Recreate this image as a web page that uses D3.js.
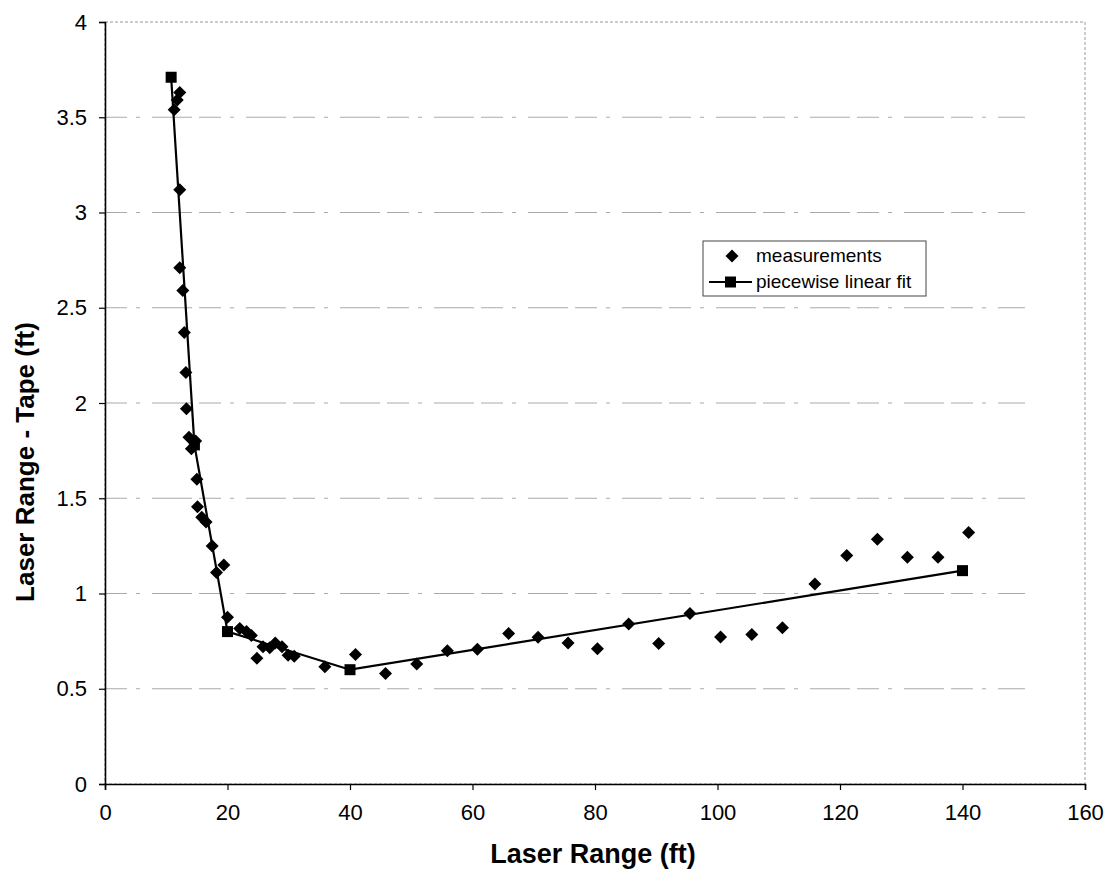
<!DOCTYPE html>
<html>
<head>
<meta charset="utf-8">
<script src="https://cdn.jsdelivr.net/npm/d3@7"></script>
<style>
  body { margin: 0; background: #fff; }
  text { font-family: "Liberation Sans", Arial, sans-serif; }
</style>
</head>
<body>
<div id="chart"></div>
<script>
// measured points (laser range, laser - tape)
var measX = [11.3, 11.8, 12.2, 12.2, 12.2, 12.7, 12.95, 13.2, 13.3, 13.7, 14.1, 14.8, 15.0, 15.1, 15.8, 16.5, 17.5, 18.2, 19.4, 20.0,
  22.0, 23.1, 23.9, 24.8, 25.8, 26.9, 27.8, 28.9, 29.9, 30.9, 35.9, 40.9, 45.8, 50.9, 55.9, 60.8, 65.9, 70.7, 75.6, 80.4,
  85.5, 90.4, 95.5, 100.5, 105.6, 110.6, 115.9, 121.1, 126.1, 131, 136, 141];
var measY = [3.54, 3.59, 3.63, 3.12, 2.71, 2.59, 2.37, 2.16, 1.97, 1.82, 1.76, 1.80, 1.60, 1.455, 1.40, 1.375, 1.25, 1.11, 1.15, 0.875,
  0.816, 0.80, 0.78, 0.66, 0.72, 0.715, 0.74, 0.72, 0.676, 0.67, 0.615, 0.68, 0.58, 0.63, 0.70, 0.707, 0.79, 0.77, 0.74, 0.71,
  0.84, 0.738, 0.895, 0.772, 0.785, 0.82, 1.05, 1.2, 1.285, 1.19, 1.19, 1.32];

// piecewise linear fit break points
var fitX = [10.8, 14.6, 20, 40, 140];
var fitY = [3.71, 1.78, 0.8, 0.6, 1.12];

var xTicks = [0, 20, 40, 60, 80, 100, 120, 140, 160];
var yTicks = [0, 0.5, 1, 1.5, 2, 2.5, 3, 3.5, 4];
var legendLabels = ["measurements", "piecewise linear fit"];

var svgwidth = 1108;
var svgheight = 896;
var margin = {top: 22, right: 23, bottom: 112, left: 105};
var width = svgwidth - margin.left - margin.right;
var height = svgheight - margin.top - margin.bottom;

var svg = d3.select("#chart")
  .append("svg")
  .attr("width", svgwidth)
  .attr("height", svgheight);

var g = svg.append("g")
  .attr("transform", `translate(${margin.left}, ${margin.top})`);

var x = d3.scaleLinear().domain([0, 160]).range([0, width]);
var y = d3.scaleLinear().domain([0, 4]).range([height, 0]);

// plot area frame
g.append("rect")
  .attr("width", width)
  .attr("height", height)
  .attr("fill", "none")
  .attr("stroke", "#999")
  .attr("stroke-width", 1)
  .attr("stroke-dasharray", "3,2");

// horizontal gridlines, faint like the scan
g.selectAll(".grid")
  .data(yTicks.slice(1, -1))
  .enter()
  .append("line")
  .attr("x1", 0)
  .attr("x2", width - 60)
  .attr("y1", d => y(d))
  .attr("y2", d => y(d))
  .attr("stroke", "#aaa")
  .attr("stroke-width", 1)
  .attr("stroke-dasharray", "22,9,4,12,40,7");

// axes
var xAxis = g.append("g")
  .attr("transform", `translate(0, ${height})`)
  .call(d3.axisBottom(x).tickValues(xTicks).tickSize(6).tickPadding(14).tickFormat(d3.format("d")));
var yAxis = g.append("g")
  .call(d3.axisLeft(y).tickValues(yTicks).tickSize(6).tickPadding(12).tickFormat(d => d));

[xAxis, yAxis].forEach(function(a) {
  a.select(".domain").attr("stroke", "#000").attr("stroke-width", 1.6);
  a.selectAll(".tick line").attr("stroke", "#000").attr("stroke-width", 1.2);
  a.selectAll(".tick text")
    .attr("fill", "#000")
    .style("font-size", "22px")
    .style("font-family", "'Liberation Sans', Arial, sans-serif");
});

// axis titles
svg.append("text")
  .attr("x", 593)
  .attr("y", 863)
  .attr("text-anchor", "middle")
  .style("font-size", "27px")
  .style("font-weight", "bold")
  .text("Laser Range (ft)");

svg.append("text")
  .attr("transform", "translate(34, 462) rotate(-90)")
  .attr("text-anchor", "middle")
  .style("font-size", "26px")
  .style("font-weight", "bold")
  .text("Laser Range - Tape (ft)");

var diamond = function(s) {
  return `M0,${-s}L${s},0L0,${s}L${-s},0Z`;
};

// measurements
g.selectAll(".meas")
  .data(measX)
  .enter()
  .append("path")
  .attr("d", diamond(6.5))
  .attr("transform", (d, i) => `translate(${x(d)}, ${y(measY[i])})`)
  .attr("fill", "#000");

// fit line and squares
var line = d3.line()
  .x(d => x(d))
  .y((d, i) => y(fitY[i]));

g.append("path")
  .attr("d", line(fitX))
  .attr("fill", "none")
  .attr("stroke", "#000")
  .attr("stroke-width", 2.2);

g.selectAll(".fit")
  .data(fitX)
  .enter()
  .append("rect")
  .attr("x", d => x(d) - 5.5)
  .attr("y", (d, i) => y(fitY[i]) - 5.5)
  .attr("width", 11)
  .attr("height", 11)
  .attr("fill", "#000");

// legend
var legend = svg.append("g").attr("transform", "translate(703, 241)");
legend.append("rect")
  .attr("width", 223)
  .attr("height", 55)
  .attr("fill", "#fff")
  .attr("stroke", "#444")
  .attr("stroke-width", 1);

legend.append("path")
  .attr("d", diamond(6.5))
  .attr("transform", "translate(29, 15)")
  .attr("fill", "#000");
legend.append("line")
  .attr("x1", 6).attr("x2", 49)
  .attr("y1", 41).attr("y2", 41)
  .attr("stroke", "#000")
  .attr("stroke-width", 2.2);
legend.append("rect")
  .attr("x", 22).attr("y", 35.5)
  .attr("width", 11).attr("height", 11)
  .attr("fill", "#000");

legend.selectAll(".lab")
  .data(legendLabels)
  .enter()
  .append("text")
  .attr("x", 53)
  .attr("y", (d, i) => 21 + i * 26)
  .style("font-size", "19px")
  .text(d => d);
</script>
</body>
</html>
